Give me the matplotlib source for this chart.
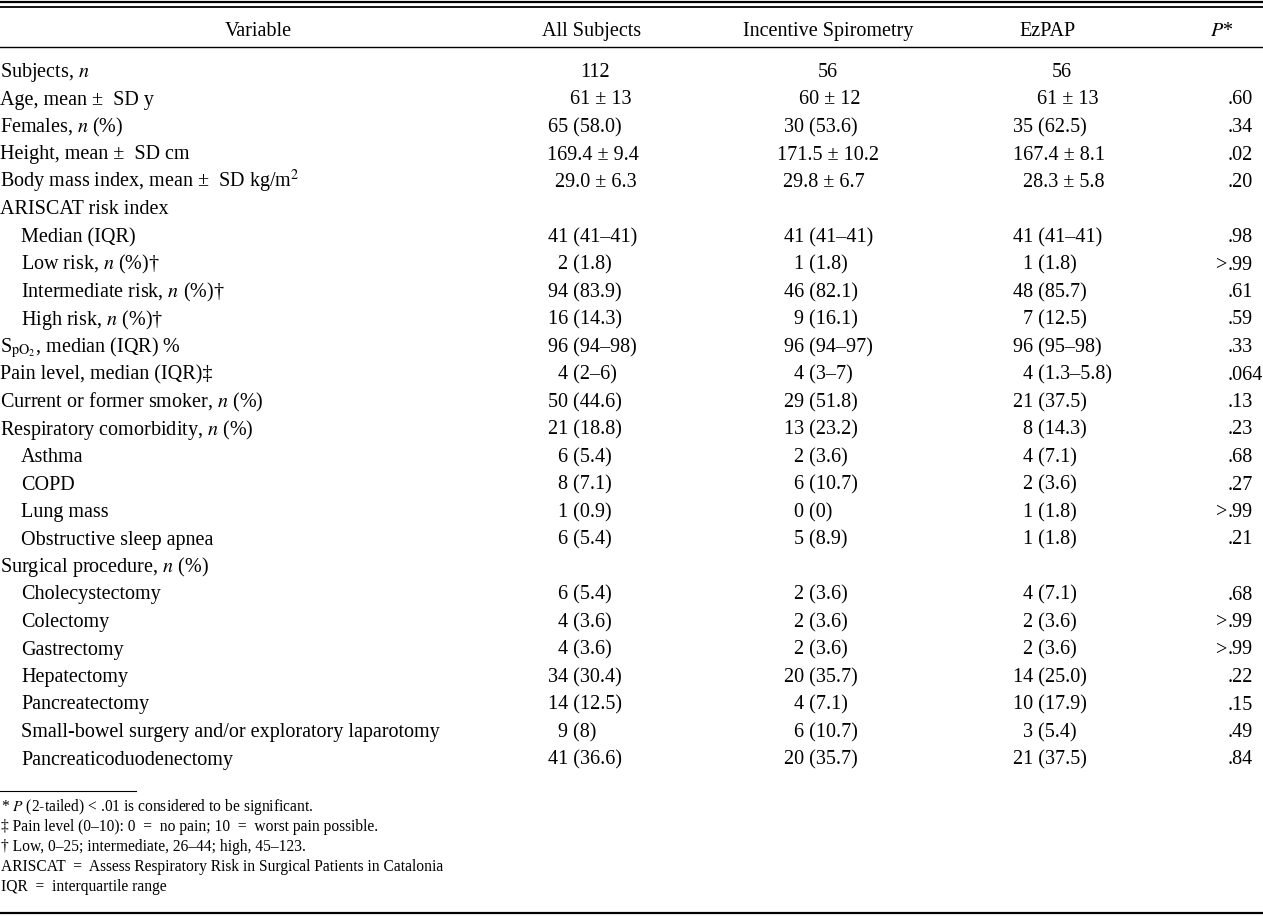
import matplotlib.pyplot as plt

plt.rcParams['font.family'] = ['Liberation Serif', 'DejaVu Serif']
plt.rcParams['mathtext.fontset'] = 'stix'

headers = ['Variable', 'All Subjects', 'Incentive Spirometry', 'EzPAP', '$P$*']

variables = [
    'Subjects, $n$',
    'Age, mean \u00b1  SD y',
    'Females, $n$ (%)',
    'Height, mean \u00b1  SD cm',
    'Body mass index, mean \u00b1  SD kg/m$^2$',
    'ARISCAT risk index',
    'Median (IQR)',
    'Low risk, $n$ (%)\u2020',
    'Intermediate risk, $n$ (%)\u2020',
    'High risk, $n$ (%)\u2020',
    'S$_{\\mathrm{pO}_2}$, median (IQR) %',
    'Pain level, median (IQR)\u2021',
    'Current or former smoker, $n$ (%)',
    'Respiratory comorbidity, $n$ (%)',
    'Asthma',
    'COPD',
    'Lung mass',
    'Obstructive sleep apnea',
    'Surgical procedure, $n$ (%)',
    'Cholecystectomy',
    'Colectomy',
    'Gastrectomy',
    'Hepatectomy',
    'Pancreatectomy',
    'Small-bowel surgery and/or exploratory laparotomy',
    'Pancreaticoduodenectomy',
]

# sub-items are indented under their group heading
sub_rows = [False, False, False, False, False, False,
            True, True, True, True,
            False, False, False, False,
            True, True, True, True,
            False,
            True, True, True, True, True, True, True]

all_subjects = ['112', '61 \u00b1 13', '65 (58.0)', '169.4 \u00b1 9.4', '29.0 \u00b1 6.3', '',
                '41 (41\u201341)', '2 (1.8)', '94 (83.9)', '16 (14.3)', '96 (94\u201398)',
                '4 (2\u20136)', '50 (44.6)', '21 (18.8)', '6 (5.4)', '8 (7.1)', '1 (0.9)',
                '6 (5.4)', '', '6 (5.4)', '4 (3.6)', '4 (3.6)', '34 (30.4)', '14 (12.5)',
                '9 (8)', '41 (36.6)']

incentive = ['56', '60 \u00b1 12', '30 (53.6)', '171.5 \u00b1 10.2', '29.8 \u00b1 6.7', '',
             '41 (41\u201341)', '1 (1.8)', '46 (82.1)', '9 (16.1)', '96 (94\u201397)',
             '4 (3\u20137)', '29 (51.8)', '13 (23.2)', '2 (3.6)', '6 (10.7)', '0 (0)',
             '5 (8.9)', '', '2 (3.6)', '2 (3.6)', '2 (3.6)', '20 (35.7)', '4 (7.1)',
             '6 (10.7)', '20 (35.7)']

ezpap = ['56', '61 \u00b1 13', '35 (62.5)', '167.4 \u00b1 8.1', '28.3 \u00b1 5.8', '',
         '41 (41\u201341)', '1 (1.8)', '48 (85.7)', '7 (12.5)', '96 (95\u201398)',
         '4 (1.3\u20135.8)', '21 (37.5)', '8 (14.3)', '4 (7.1)', '2 (3.6)', '1 (1.8)',
         '1 (1.8)', '', '4 (7.1)', '2 (3.6)', '2 (3.6)', '14 (25.0)', '10 (17.9)',
         '3 (5.4)', '21 (37.5)']

p_values = ['', '.60', '.34', '.02', '.20', '', '.98', '>.99', '.61', '.59', '.33',
            '.064', '.13', '.23', '.68', '.27', '>.99', '.21', '', '.68', '>.99',
            '>.99', '.22', '.15', '.49', '.84']

footnotes = [
    '* $P$ (2-tailed) < .01 is considered to be significant.',
    '\u2021 Pain level (0\u201310): 0  =  no pain; 10  =  worst pain possible.',
    '\u2020 Low, 0\u201325; intermediate, 26\u201344; high, 45\u2013123.',
    'ARISCAT  =  Assess Respiratory Risk in Surgical Patients in Catalonia',
    'IQR  =  interquartile range',
]

# layout (pixels)
W, H = 1263, 916
FS = 14.5
col_base = [548, 784, 1013]
header_x = [258, 592, 828, 1048, 1222]
p_dot_x = 1228
row_y0, row_dy = 70, 27.5
# rows whose values are not left-aligned on the column base
row_starts = {0: (580, 818, 1052), 1: (570, 799, 1037),
              3: (547, 777, 1013), 4: (555, 783, 1023)}

fig = plt.figure(figsize=(W / 100, H / 100), dpi=100)
ax = fig.add_axes([0, 0, 1, 1])
ax.set_xlim(0, W)
ax.set_ylim(H, 0)
ax.axis('off')

# rules
ax.plot([0, W], [2, 2], color='black', lw=1.6)
ax.plot([0, W], [6.5, 6.5], color='black', lw=1.3)
ax.plot([0, W], [47, 47], color='black', lw=1.0)
ax.plot([0, 136], [791, 791], color='black', lw=0.8)
ax.plot([0, W], [913, 913], color='black', lw=1.6)

# header
for i, h in enumerate(headers):
    ax.text(header_x[i], 36, h, ha='center', va='baseline', fontsize=FS)


def value_x(col, s, row):
    if row in row_starts:
        return row_starts[row][col]
    first = s.split(' ')[0]
    return col_base[col] + (10 if len(first) == 1 else 0)


for r, name in enumerate(variables):
    yb = row_y0 + r * row_dy + 7
    x0 = 21 if sub_rows[r] else 0
    ax.text(x0, yb, name, ha='left', va='baseline', fontsize=FS)
    for c, col in enumerate([all_subjects, incentive, ezpap]):
        s = col[r]
        if s:
            ax.text(value_x(c, s, r), yb, s, ha='left', va='baseline', fontsize=FS)
    p = p_values[r]
    if p.startswith('>'):
        ax.text(p_dot_x - 1, yb, '>', ha='right', va='baseline', fontsize=FS)
        p = p[1:]
    if p:
        ax.text(p_dot_x, yb, p, ha='left', va='baseline', fontsize=FS)

for i, note in enumerate(footnotes):
    ax.text(1, 806 + i * 20 + 5, note, ha='left', va='baseline', fontsize=11.2)

fig.savefig('out.png', dpi=100)
